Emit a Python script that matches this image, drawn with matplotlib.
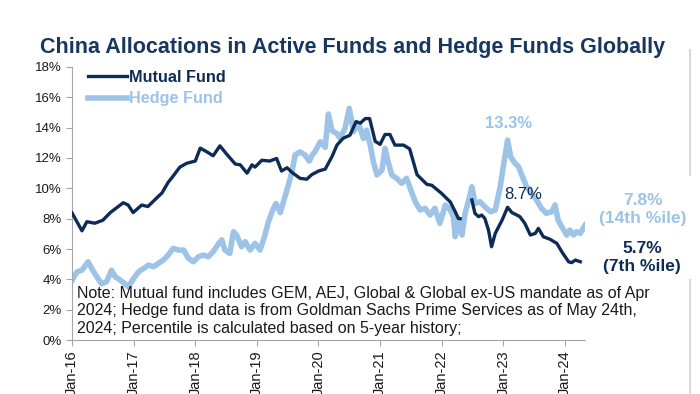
import numpy as np
import matplotlib.pyplot as plt
from matplotlib.lines import Line2D

plt.rcParams['font.family'] = ['Liberation Sans', 'DejaVu Sans']

# Mutual fund allocation (%); NaN = gap in the series
mf_year = [2016.00, 2016.16, 2016.24, 2016.37, 2016.50, 2016.62, 2016.83, 2016.91, 2016.99,
           2017.13, 2017.23, 2017.37, 2017.46, 2017.56, 2017.62, 2017.75, 2017.86, 2018.00,
           2018.08, 2018.19, 2018.29, 2018.40, 2018.51, 2018.65, 2018.73, 2018.84, 2018.92,
           2018.97, 2019.08, 2019.21, 2019.32, 2019.40, 2019.49, 2019.57, 2019.70, 2019.81,
           2019.89, 2020.00, 2020.11, 2020.22, 2020.30, 2020.40, 2020.51, 2020.61, 2020.68,
           2020.76, 2020.83, 2020.92, 2021.00, 2021.08, 2021.16, 2021.24, 2021.38, 2021.48,
           2021.60, 2021.76, 2021.84, 2022.00, 2022.14, 2022.22, 2022.27, 2022.30, 2022.40,
           2022.49, 2022.54, 2022.60, 2022.65, 2022.70, 2022.76, 2022.81, 2022.87, 2022.98,
           2023.07, 2023.14, 2023.22, 2023.27, 2023.35, 2023.44, 2023.52, 2023.57, 2023.65,
           2023.76, 2023.87, 2023.95, 2024.06, 2024.11, 2024.17, 2024.25]
mf_val = [8.37, 7.2, 7.8, 7.7, 7.9, 8.4, 9.05, 8.9, 8.4,
          8.9, 8.8, 9.35, 9.7, 10.4, 10.7, 11.4, 11.65, 11.8,
          12.65, 12.4, 12.15, 12.8, 12.25, 11.6, 11.55, 11.0, 11.55,
          11.4, 11.85, 11.8, 11.97, 11.14, 11.36, 11.05, 10.66, 10.6,
          10.9, 11.14, 11.27, 12.1, 12.85, 13.3, 13.5, 14.4, 14.3,
          14.6, 14.6, 13.1, 12.9, 13.55, 13.55, 12.85, 12.85, 12.6,
          10.9, 10.26, 10.2, 9.66, 9.1, 8.46, 8.02, 8.0, np.nan,
          9.23, 8.35, 8.13, 8.24, 8.02, 7.25, 6.15, 7.03, 7.9,
          8.75, 8.4, 8.24, 8.13, 7.69, 6.92, 7.03, 7.36, 6.81,
          6.64, 6.37, 5.82, 5.16, 5.1, 5.27, 5.16]

# Hedge fund allocation (%)
hf_year = [2016.00, 2016.08, 2016.16, 2016.26, 2016.32, 2016.40, 2016.48, 2016.56, 2016.64,
           2016.70, 2016.78, 2016.86, 2016.91, 2017.00, 2017.08, 2017.16, 2017.24, 2017.32,
           2017.40, 2017.48, 2017.56, 2017.64, 2017.73, 2017.81, 2017.89, 2017.97, 2018.05,
           2018.13, 2018.21, 2018.29, 2018.38, 2018.43, 2018.48, 2018.56, 2018.62, 2018.67,
           2018.75, 2018.81, 2018.89, 2018.97, 2019.05, 2019.13, 2019.18, 2019.25, 2019.31,
           2019.38, 2019.46, 2019.51, 2019.57, 2019.62, 2019.70, 2019.78, 2019.85, 2019.90,
           2019.94, 2020.03, 2020.11, 2020.16, 2020.22, 2020.30, 2020.35, 2020.43, 2020.50,
           2020.57, 2020.65, 2020.73, 2020.78, 2020.84, 2020.89, 2020.95, 2021.03, 2021.08,
           2021.13, 2021.19, 2021.27, 2021.35, 2021.43, 2021.51, 2021.57, 2021.65, 2021.73,
           2021.81, 2021.89, 2021.97, 2022.06, 2022.14, 2022.19, 2022.22, 2022.27, 2022.33,
           2022.38, 2022.46, 2022.49, 2022.54, 2022.62, 2022.70, 2022.79, 2022.87, 2022.95,
           2023.00, 2023.07, 2023.12, 2023.19, 2023.25, 2023.30, 2023.38, 2023.46, 2023.54,
           2023.62, 2023.70, 2023.79, 2023.84, 2023.89, 2023.95, 2024.03, 2024.08, 2024.14,
           2024.19, 2024.25, 2024.33]
hf_val = [3.95, 4.5, 4.6, 5.16, 4.7, 4.17, 3.7, 3.85, 4.6,
          4.17, 3.95, 3.7, 3.5, 4.06, 4.5, 4.72, 4.94, 4.83,
          5.05, 5.27, 5.6, 6.04, 5.93, 5.93, 5.38, 5.16, 5.49,
          5.6, 5.49, 5.82, 6.37, 6.6, 5.93, 5.71, 7.14, 6.92,
          6.15, 6.48, 5.93, 6.37, 5.93, 6.9, 7.7, 8.5, 9.0,
          8.4, 9.5, 10.2, 11.1, 12.2, 12.4, 12.2, 11.8, 12.2,
          12.4, 13.07, 12.7, 14.9, 13.8, 13.6, 13.3, 13.95, 15.27,
          13.73, 14.28, 13.29, 13.84, 12.85, 11.76, 10.88, 11.2, 12.63,
          11.76, 10.88, 10.66, 10.33, 10.66, 9.78, 9.12, 8.57, 8.68,
          8.24, 8.68, 7.69, 8.9, 8.57, 8.13, 6.81, 7.91, 6.92,
          8.35, 9.56, 10.1, 9.0, 9.12, 8.79, 8.46, 8.57, 10.1,
          11.42, 13.18, 12.08, 11.65, 11.42, 10.88, 10.1, 9.67, 9.23,
          8.68, 8.35, 8.46, 8.9, 7.91, 7.47, 6.92, 7.25, 6.92,
          7.14, 7.03, 7.58]

tick_years = [2016, 2017, 2018, 2019, 2020, 2021, 2022, 2023, 2024]
tick_labels = ['Jan-16', 'Jan-17', 'Jan-18', 'Jan-19', 'Jan-20', 'Jan-21', 'Jan-22', 'Jan-23', 'Jan-24']

navy = '#0C2C57'
light = '#9DC3E6'
title_c = '#17375E'

fig = plt.figure(figsize=(7, 3.94), dpi=100)
ax = fig.add_axes([0.103, 0.137, 0.733, 0.693])

ax.plot(hf_year, hf_val, color=light, lw=4.0, zorder=2, label='Hedge Fund')
ax.plot(mf_year, mf_val, color=navy, lw=2.4, zorder=3, label='Mutual Fund')

ax.set_xlim(2016, 2024.33)
ax.set_ylim(0, 18)
ax.set_yticks(range(0, 19, 2))
ax.set_yticklabels(['%d%%' % v for v in range(0, 19, 2)])
ax.set_xticks(tick_years)
ax.set_xticklabels(tick_labels, rotation=90)
ax.tick_params(axis='both', colors='#A6A6A6', labelcolor='#1a1a1a', length=4)
ax.tick_params(axis='y', labelsize=9.5)
ax.tick_params(axis='x', labelsize=10.5)
for s in ['top', 'right']:
    ax.spines[s].set_visible(False)
for s in ['left', 'bottom']:
    ax.spines[s].set_color('#A6A6A6')

h = ax.get_legend_handles_labels()[0]
leg = ax.legend([h[1], h[0]], ['Mutual Fund', 'Hedge Fund'], loc='upper left',
                bbox_to_anchor=(0.031, 0.99), frameon=False, borderpad=0, borderaxespad=0,
                handlelength=2.4, handletextpad=0.1, labelspacing=0.4,
                prop={'weight': 'bold', 'size': 11.7})
for t, c in zip(leg.get_texts(), [navy, light]):
    t.set_color(c)

ax.text(2023.09, 14.3, '13.3%', color=light, fontsize=12, fontweight='bold', ha='center', va='center')
ax.text(2023.32, 9.62, '8.7%', color=navy, fontsize=12, ha='center', va='center')
ax.text(2025.27, 8.6, '7.8%\n(14th %ile)', color=light, fontsize=12.5, fontweight='bold',
        ha='center', va='center', linespacing=1.2, clip_on=False)
ax.text(2025.25, 5.45, '5.7%\n(7th %ile)', color=navy, fontsize=12.5, fontweight='bold',
        ha='center', va='center', linespacing=1.2, clip_on=False)

ax.text(0.01, 0.198, 'Note: Mutual fund includes GEM, AEJ, Global & Global ex-US mandate as of Apr\n'
        '2024; Hedge fund data is from Goldman Sachs Prime Services as of May 24th,\n'
        '2024; Percentile is calculated based on 5-year history;',
        transform=ax.transAxes, fontsize=11.5, color='#1a1a1a', va='top', ha='left',
        linespacing=1.2, zorder=4)

fig.text(0.503, 0.88, 'China Allocations in Active Funds and Hedge Funds Globally',
         color=title_c, fontsize=15.5, fontweight='bold', ha='center', va='center')

# light frame edge at the right of the slide
fig.add_artist(Line2D([0.986, 0.986], [0.555, 0.873], color='#D9D9D9', lw=1.5))
fig.add_artist(Line2D([0.986, 0.986], [0.0, 0.29], color='#D9D9D9', lw=1.5))

fig.savefig('out.png', dpi=100)
